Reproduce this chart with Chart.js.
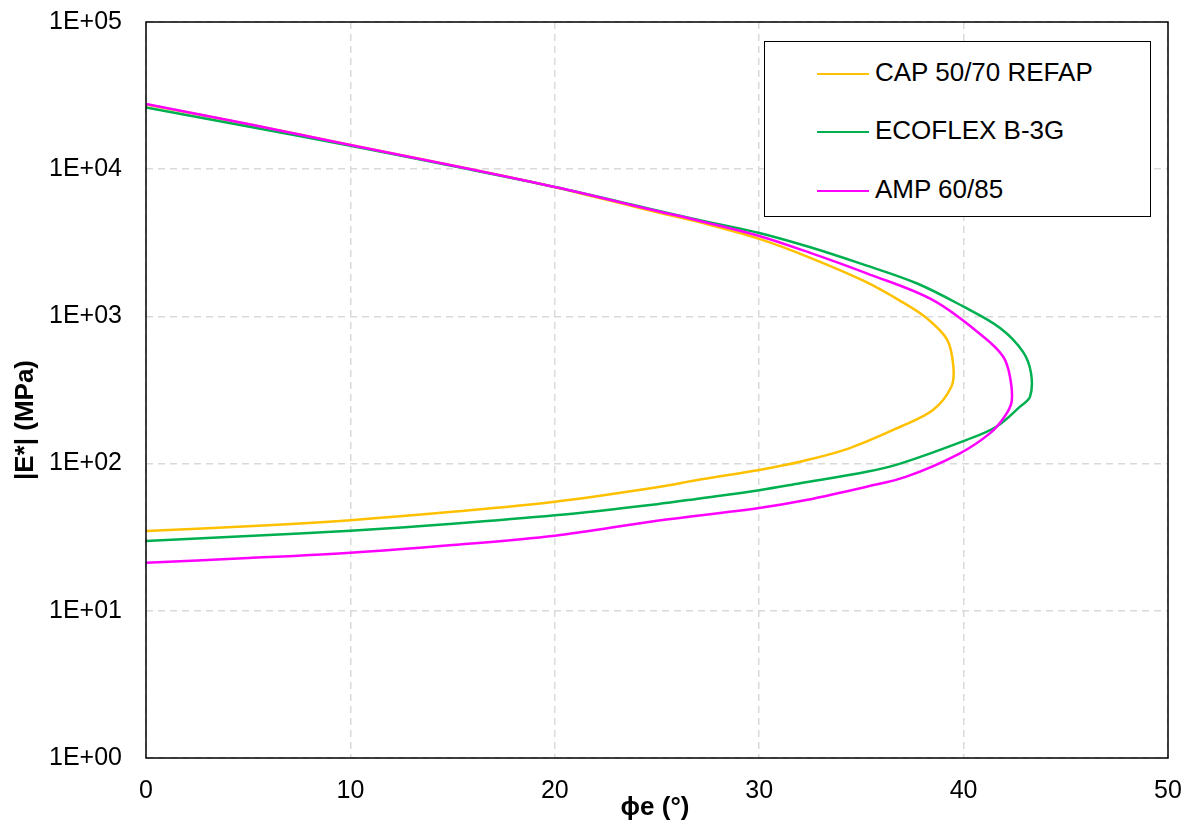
<!DOCTYPE html>
<html>
<head>
<meta charset="utf-8">
<script src="https://cdn.jsdelivr.net/npm/chart.js@4"></script>
<style>
    html, body { margin: 0; padding: 0; background: #fff; }
    #wrap { position: relative; width: 1194px; height: 822px; }
    #legend {
        position: absolute; left: 764px; top: 41px; width: 387px; height: 176px;
        border: 1px solid #000; box-sizing: border-box; background: #fff;
        font-family: "Liberation Sans", Arial, sans-serif; font-size: 26px; color: #000;
    }
    .item { position: absolute; left: 52px; height: 30px; line-height: 30px; white-space: nowrap; }
    .item span.sw { display: inline-block; width: 52px; height: 2px; vertical-align: middle; margin-right: 6px; }
</style>
</head>
<body>
<div id="wrap">
    <canvas id="chart" width="1194" height="822"></canvas>
    <div id="legend"></div>
</div>
<script>
// valeurs (du haut vers le bas de chaque courbe)
const seriesNames = ['CAP 50/70 REFAP', 'ECOFLEX B-3G', 'AMP 60/85'];
const seriesColors = ['#ffc000', '#00b050', '#ff00ff'];

const capPhi = [0, 5, 10, 15, 20, 25, 27.1, 30, 32.5, 35.2, 37, 38.2, 39.2, 39.5, 39.4, 38.5, 36.9, 34.4, 32.0, 30.0, 27.1, 25, 20, 15, 10, 5, 0];
const capE = [27500, 20200, 14600, 10600, 7550, 5100, 4350, 3360, 2500, 1720, 1250, 970, 692, 455, 333, 231, 178, 127, 103, 90.6, 78, 69, 55, 47, 41.3, 37.5, 34.8];

const ecoPhi = [0, 5, 10, 15, 20, 25, 27.1, 30, 32.5, 34.9, 37.7, 40.0, 41.8, 42.9, 43.3, 43.25, 42.76, 41.6, 40.15, 36.9, 35.26, 32.0, 30.0, 27.1, 25, 20, 15, 10, 5, 0];
const ecoE = [26300, 19500, 14400, 10500, 7570, 5250, 4500, 3690, 2950, 2300, 1680, 1164, 832, 576, 410, 285, 244, 178, 145, 100, 88, 73.5, 66, 58, 53, 44.5, 39, 35, 32.2, 29.8];

const ampPhi = [0, 5, 10, 15, 20, 25, 27.1, 30, 32.5, 35.26, 38.5, 40.97, 41.94, 42.27, 42.35, 42.0, 41.3, 39.8, 37.2, 35.26, 32.3, 30, 25, 20, 15, 10, 5, 0];
const ampE = [27700, 20300, 14600, 10600, 7570, 5200, 4450, 3520, 2700, 1960, 1290, 728, 532, 389, 263, 208, 161, 117, 81.5, 69.7, 56.6, 50, 40.9, 32.4, 28, 24.8, 22.8, 21.2];

const xTicks = [0, 10, 20, 30, 40, 50];
const yTicks = [1, 10, 100, 1000, 10000, 100000];
const yTickLabels = ['1E+00', '1E+01', '1E+02', '1E+03', '1E+04', '1E+05'];

function toPoints(xs, ys) {
    return xs.map((x, i) => ({ x: x, y: ys[i] }));
}

const allSeries = [toPoints(capPhi, capE), toPoints(ecoPhi, ecoE), toPoints(ampPhi, ampE)];

const FONT = '"Liberation Sans", Arial, sans-serif';

// cadre noir + titres des axes placés comme dans Excel
const framePlugin = {
    id: 'frame',
    afterDraw(chart) {
        const { ctx, chartArea: a } = chart;
        ctx.save();
        ctx.strokeStyle = '#000';
        ctx.lineWidth = 1.5;
        ctx.strokeRect(a.left, a.top, a.right - a.left, a.bottom - a.top);
        ctx.fillStyle = '#000';
        ctx.font = 'bold 26px ' + FONT;
        ctx.textAlign = 'center';
        ctx.textBaseline = 'middle';
        ctx.fillText('ϕe (°)', 655, 808);
        ctx.translate(26, 420);
        ctx.rotate(-Math.PI / 2);
        ctx.fillText('|E*| (MPa)', 0, 0);
        ctx.restore();
    }
};

const ctx = document.getElementById('chart').getContext('2d');
const chart = new Chart(ctx, {
    type: 'scatter',
    data: {
        datasets: allSeries.map((pts, i) => ({
            label: seriesNames[i],
            data: pts,
            showLine: true,
            borderColor: seriesColors[i],
            backgroundColor: seriesColors[i],
            borderWidth: 2.5,
            pointRadius: 0,
            tension: 0.35
        })).reverse()
    },
    options: {
        responsive: false,
        animation: false,
        layout: { padding: { left: 0, top: 22, right: 26, bottom: 0 } },
        plugins: { legend: { display: false }, tooltip: { enabled: false } },
        scales: {
            x: {
                type: 'linear',
                min: 0, max: 50,
                afterBuildTicks: (s) => { s.ticks = xTicks.map(v => ({ value: v })); },
                afterFit: (s) => { s.height = 64; s.paddingLeft = 0; s.paddingRight = 0; },
                grid: { color: '#d9d9d9', lineWidth: 1.5, drawTicks: false },
                border: { display: false, dash: [7, 5] },
                ticks: { padding: 18, color: '#000', font: { family: FONT, size: 25 } }
            },
            y: {
                type: 'logarithmic',
                min: 1, max: 100000,
                afterBuildTicks: (s) => { s.ticks = yTicks.map(v => ({ value: v })); },
                afterFit: (s) => { s.width = 146; s.paddingTop = 0; s.paddingBottom = 0; },
                grid: { color: '#d9d9d9', lineWidth: 1.5, drawTicks: false },
                border: { display: false, dash: [7, 5] },
                ticks: {
                    padding: 24, color: '#000', font: { family: FONT, size: 25 },
                    callback: (v) => yTickLabels[yTicks.indexOf(v)]
                }
            }
        }
    },
    plugins: [framePlugin]
});

// légende HTML
const legendEl = document.getElementById('legend');
const tops = [15, 73, 132];
seriesNames.forEach((name, i) => {
    const d = document.createElement('div');
    d.className = 'item';
    d.style.top = tops[i] + 'px';
    d.innerHTML = '<span class="sw" style="background:' + seriesColors[i] + '"></span>' + name;
    legendEl.appendChild(d);
});
</script>
</body>
</html>
